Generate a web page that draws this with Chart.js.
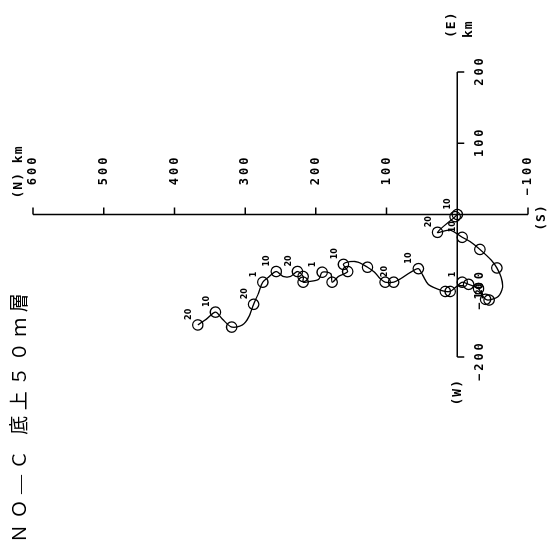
<!DOCTYPE html>
<html>
<head>
<meta charset="utf-8">
<script src="https://cdn.jsdelivr.net/npm/chart.js@4/dist/chart.umd.min.js"></script>
<style>
html, body { margin: 0; padding: 0; background: #fff; width: 555px; height: 543px; overflow: hidden; }
/* the figure is printed turned on its side: north to the left, east up */
#wrap { position: absolute; left: 6px; top: -6px; width: 543px; height: 555px; transform: rotate(-90deg); transform-origin: 50% 50%; }
</style>
</head>
<body>
<div id="wrap"><canvas id="c" width="543" height="555"></canvas></div>
<script>
// progressive vector track, km from the mooring (east, north)
const eastKm = [0, -3, -25, -22, -32, -38, -49, -64, -75, -88, -102, -115, -120, -119, -113, -104, -101, -98, -95, -101,
    -108, -108, -105, -98, -85, -76, -81, -90, -95, -95, -90, -81, -74, -67, -66, -70, -80, -87, -95, -83,
    -81, -91, -94, -95, -87, -80, -87, -87, -80, -88, -95, -110, -126, -144, -155, -158, -147, -137, -147, -155];
const northKm = [0, 3, 28, 10, -7, -18, -32, -48, -56, -62, -64, -58, -45, -40, -35, -30, -24, -16, -7, 1,
    10, 17, 27, 41, 49, 55, 66, 80, 90, 102, 109, 117, 127, 140, 151, 161, 155, 168, 177, 179,
    191, 196, 209, 218, 218, 226, 236, 246, 256, 267, 275, 281, 288, 295, 304, 319, 332, 342, 355, 367];
const circleAt = [0, 1, 2, 4, 6, 8, 12, 13, 15, 17, 18, 20, 21, 25, 28, 29, 32, 35, 36, 38, 40, 43, 44, 45, 48, 50, 52, 55, 57, 59];
const dayLabels = [[0, "10"], [2, "20"], [4, "10"], [12, "20"], [18, "1"], [25, "10"], [28, "20"], [35, "10"],
    [40, "1"], [45, "20"], [48, "10"], [50, "1"], [52, "20"], [57, "10"], [59, "20"]];

const northTicks = [600, 500, 400, 300, 200, 100, -100];
const eastTicks = [200, 100, -100, -200];
const title = "ＮＯ—Ｃ 底上５０ｍ層";

const axesPlugin = {
    id: "crossAxes",
    beforeDatasetsDraw(chart) {
        const ctx = chart.ctx;
        const xs = chart.scales.x, ys = chart.scales.y;
        const x0 = xs.getPixelForValue(0), y0 = ys.getPixelForValue(0);
        ctx.save();
        ctx.strokeStyle = "#000";
        ctx.lineWidth = 1.5;
        ctx.beginPath();
        ctx.moveTo(x0, ys.getPixelForValue(600));
        ctx.lineTo(x0, ys.getPixelForValue(-100));
        ctx.moveTo(xs.getPixelForValue(-200), y0);
        ctx.lineTo(xs.getPixelForValue(200), y0);
        northTicks.forEach((v) => {
            const p = ys.getPixelForValue(v);
            ctx.moveTo(x0, p);
            ctx.lineTo(x0 + 7, p);
        });
        eastTicks.forEach((v) => {
            const p = xs.getPixelForValue(v);
            ctx.moveTo(p, y0);
            ctx.lineTo(p, y0 + 7);
        });
        ctx.stroke();

        ctx.fillStyle = "#000";
        ctx.font = "bold 12px 'DejaVu Sans Mono'";
        ctx.letterSpacing = "3px";
        ctx.textBaseline = "middle";
        ctx.textAlign = "right";
        northTicks.forEach((v) => {
            ctx.fillText(String(v).replace("-", "−"), x0 + 60, ys.getPixelForValue(v));
        });
        ctx.textAlign = "left";
        ctx.textBaseline = "top";
        eastTicks.forEach((v) => {
            const digits = String(Math.abs(v));
            const w = ctx.measureText(digits).width - 3;
            const sign = v < 0 ? "−" : "";
            const sw = v < 0 ? ctx.measureText(sign).width : 0;
            ctx.fillText(sign + digits, xs.getPixelForValue(v) - w / 2 - sw, y0 + 17);
        });

        ctx.font = "bold 13px 'DejaVu Sans Mono'";
        ctx.letterSpacing = "1px";
        ctx.textBaseline = "middle";
        ctx.fillText("(N) km", x0 + 16, ys.getPixelForValue(600) - 14);
        ctx.fillText("(E)", xs.getPixelForValue(200) + 34, y0 - 6);
        ctx.fillText("km", xs.getPixelForValue(200) + 34, y0 + 11);
        ctx.textAlign = "center";
        ctx.fillText("(S)", x0 - 3, ys.getPixelForValue(-100) + 14);
        ctx.textAlign = "right";
        ctx.fillText("(W)", xs.getPixelForValue(-200) - 22, y0);

        ctx.textAlign = "left";
        ctx.font = "19px 'Liberation Serif', 'Noto Sans CJK JP'";
        ctx.letterSpacing = "5.5px";
        ctx.fillText(title, 0, 21);
        ctx.restore();
    },
    afterDatasetsDraw(chart) {
        const ctx = chart.ctx;
        const xs = chart.scales.x, ys = chart.scales.y;
        ctx.save();
        ctx.fillStyle = "#000";
        ctx.font = "bold 8px 'DejaVu Sans'";
        ctx.textAlign = "left";
        ctx.textBaseline = "bottom";
        dayLabels.forEach(([i, t]) => {
            ctx.fillText(t, xs.getPixelForValue(eastKm[i]) + 5, ys.getPixelForValue(northKm[i]) - 5);
        });
        ctx.restore();
    }
};

new Chart(document.getElementById("c"), {
    type: "scatter",
    data: {
        datasets: [{
            data: eastKm.map((e, i) => ({ x: e, y: northKm[i] })),
            showLine: true,
            borderColor: "#000",
            borderWidth: 1.3,
            tension: 0.3,
            pointRadius: (c) => (circleAt.includes(c.dataIndex) ? 5.2 : 0),
            pointBorderColor: "#000",
            pointBorderWidth: 1.3,
            pointBackgroundColor: "rgba(0,0,0,0)"
        }]
    },
    options: {
        responsive: false,
        animation: false,
        devicePixelRatio: 1,
        layout: { padding: { left: 186, right: 72, top: 33, bottom: 27 } },
        scales: {
            x: { type: "linear", min: -200, max: 200, display: false },
            y: { type: "linear", min: -100, max: 600, display: false }
        },
        plugins: { legend: { display: false }, tooltip: { enabled: false } }
    },
    plugins: [axesPlugin]
});
</script>
</body>
</html>
